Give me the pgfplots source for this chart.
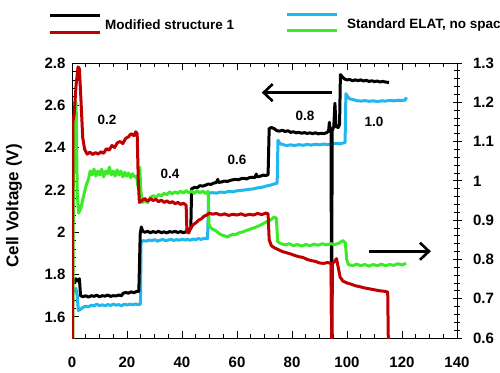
\documentclass[border=0pt]{standalone}
\usepackage{fontspec}
\setmainfont{Liberation Sans}
\usepackage{pgfplots}
\pgfplotsset{compat=1.18}
\usetikzlibrary{arrows.meta}
\definecolor{cred}{RGB}{192,0,0}
\definecolor{cblue}{RGB}{32,182,240}
\definecolor{cgreen}{RGB}{60,235,40}
\newcommand{\tickfont}{\fontsize{15}{18}\selectfont\bfseries}
\newcommand{\labfont}{\fontsize{13.5}{16}\selectfont\bfseries}
\begin{document}
\begin{tikzpicture}[x=1pt,y=1pt]
\useasboundingbox (0,0) rectangle (500,372);
\clip (0,0) rectangle (500,372);
% legend
\draw[line width=3pt] (50,356) -- (100,356);
\draw[line width=3pt,cred] (50,339) -- (100,339);
\node[anchor=west,inner sep=0pt,font=\labfont] at (105,347) {Modified structure 1};
\draw[line width=3pt,cblue] (287,357) -- (337,357);
\draw[line width=3pt,cgreen] (287,341) -- (337,341);
\node[anchor=west,inner sep=0pt,font=\labfont] at (347,347) {Standard ELAT, no spacer};
\node[rotate=90,font=\fontsize{17}{20}\selectfont\bfseries] at (14,166) {Cell Voltage (V)};

\begin{axis}[
  at={(72pt,34pt)}, anchor=south west, width=385pt, height=275pt, scale only axis,
  xmin=0, xmax=140, ymin=1.5, ymax=2.8,
  xtick={0,20,40,60,80,100,120,140},
  ytick={1.6,1.8,2,2.2,2.4,2.6,2.8},
  minor x tick num=3, minor y tick num=4,
  tick align=inside, ytick pos=left, xtick pos=both, xticklabel pos=lower,
  major tick length=7pt, minor tick length=4pt,
  axis line style={line width=0.8pt}, every tick/.style={line width=0.8pt,black},
  /pgf/number format/assume math mode=true,
  every tick label/.append style={font=\tickfont},
  yticklabel style={xshift=-3pt},
  xticklabel style={yshift=-15pt},
  clip=true,
  every axis plot/.append style={line width=3pt, line join=round, no marks},
]
\addplot[cblue] coordinates {
(1.0,1.72) (1.4,1.735) (1.9,1.70) (2.3,1.63) (3,1.635) (4,1.645) (5,1.65) (6,1.647) (7,1.655) (8,1.652) (9,1.66) (10,1.653) (11,1.657) (12,1.652) (13,1.658) (14,1.654) (15,1.66) (16,1.655) (17,1.658) (18,1.652) (19,1.66) (20,1.656) (21,1.66) (22,1.657) (23,1.661) (24,1.658) (24.9,1.66)
(25.1,1.955) (26,1.96) (27,1.958) (28,1.963) (29,1.96) (30,1.965) (31,1.958) (32,1.962) (33,1.966) (34,1.96) (35,1.963) (36,1.967) (37,1.961) (38,1.965) (39,1.962) (40,1.967) (41,1.963) (42,1.966) (43,1.962) (44,1.968) (45,1.965) (46,1.97) (47,1.966) (48,1.971) (49.3,1.97)
(49.7,2.185) (51,2.187) (52.5,2.185) (54,2.19) (55.5,2.188) (57,2.193) (58.5,2.191) (60,2.196) (61.5,2.198) (63,2.2) (64.5,2.203) (66,2.205) (67.5,2.21) (69,2.212) (70.5,2.218) (72,2.222) (73.5,2.228) (74.6,2.232)
(74.9,2.435) (75.5,2.42) (76.5,2.415) (78,2.41) (79.5,2.413) (81,2.41) (82.5,2.414) (84,2.411) (85.5,2.415) (87,2.412) (88.5,2.416) (90,2.413) (91.5,2.417) (93,2.414) (94.5,2.418) (96,2.42) (97.5,2.418) (99,2.423) (99.3,2.425)
(99.6,2.655) (100.3,2.64) (101,2.63) (102,2.628) (103.5,2.622) (105,2.62) (106.5,2.622) (108,2.619) (109.5,2.621) (111,2.618) (112.5,2.621) (114,2.62) (115.5,2.623) (117,2.621) (118.5,2.624) (120,2.623) (121.2,2.625) (121.6,2.638)
};
\addplot[black] coordinates {
(1.0,1.76) (1.4,1.78) (2.0,1.77) (2.7,1.78) (3.1,1.70) (4,1.695) (5,1.70) (6,1.693) (7,1.70) (8,1.697) (9,1.702) (10,1.695) (11,1.70) (12,1.698) (13,1.703) (14,1.697) (15,1.70) (16,1.699) (17,1.703) (18,1.70) (18.6,1.712) (19.5,1.715) (20.5,1.712) (21.5,1.718) (22.5,1.714) (23.5,1.72) (24.3,1.72)
(24.8,1.99) (25.2,2.025) (25.7,2.005) (26.5,2.0) (27.5,2.004) (28.5,1.998) (29.5,2.003) (30.5,1.999) (31.5,2.004) (32.5,1.998) (33.5,2.002) (34.5,1.997) (35.5,2.003) (36.5,2.0) (37.5,2.004) (38.5,1.999) (39.5,2.003) (40.5,1.998) (41.5,2.002) (42.0,2.015) (43.2,2.015)
(43.5,2.205) (44.5,2.212) (45.5,2.21) (46.5,2.22) (47.5,2.218) (48.5,2.222) (49.5,2.228) (50.5,2.226) (51.5,2.232) (52.5,2.235) (53,2.25) (53.3,2.235) (54.5,2.238) (55.5,2.242) (56.5,2.24) (57.5,2.245) (58.5,2.248) (59.5,2.25) (60.5,2.248) (61.5,2.253) (62.5,2.255) (63.5,2.252) (64.5,2.258) (65.5,2.26) (66.5,2.258) (67,2.275) (67.3,2.262) (68.5,2.265) (69.5,2.27) (70.5,2.268) (71.3,2.272)
(71.7,2.49) (72.5,2.495) (73.5,2.49) (74.5,2.48) (75.5,2.478) (76.5,2.482) (77.5,2.476) (78.5,2.48) (79.5,2.472) (80.5,2.475) (81.5,2.47) (82.5,2.472) (83.5,2.468) (84.5,2.471) (85.5,2.467) (86.5,2.47) (87.5,2.466) (88.5,2.47) (89.5,2.465) (90.5,2.468) (91.5,2.466) (92.5,2.47) (93.3,2.478) (93.6,2.52) (93.9,2.475) (94.2,2.48)
(94.4,1.40) (94.6,2.48) (95.2,2.50) (95.6,2.61) (96.0,2.50) (96.8,2.495) (97.3,2.51)
(97.6,2.745) (98.3,2.735) (99,2.725) (100,2.72) (101,2.722) (102,2.716) (103,2.72) (104,2.717) (105,2.72) (106,2.715) (107,2.718) (108,2.713) (109,2.716) (110,2.712) (111,2.715) (112,2.71) (113,2.713) (114,2.71) (115.3,2.708)
};
\node[font=\labfont] at (axis cs:12.7,2.533) {0.2};
\node[font=\labfont] at (axis cs:35.6,2.276) {0.4};
\node[font=\labfont] at (axis cs:60,2.343) {0.6};
\node[font=\labfont] at (axis cs:84.7,2.548) {0.8};
\node[font=\labfont] at (axis cs:109.8,2.524) {1.0};
\draw[line width=2.6pt,-{Straight Barb[length=9pt,width=17pt,line width=2.6pt]}] (axis cs:94.5,2.66) -- (axis cs:69,2.66);
\draw[line width=2.6pt,-{Straight Barb[length=9pt,width=17pt,line width=2.6pt]}] (axis cs:108,1.91) -- (axis cs:130.5,1.91);
\end{axis}

\begin{axis}[
  at={(72pt,34pt)}, anchor=south west, width=385pt, height=275pt, scale only axis,
  xmin=0, xmax=140, ymin=0.6, ymax=1.3,
  axis y line*=right, axis x line=none,
  ytick={0.6,0.7,0.8,0.9,1,1.1,1.2,1.3},
  minor y tick num=4,
  tick align=center,
  major tick length=9pt, minor tick length=6pt,
  axis line style={line width=0.8pt}, every tick/.style={line width=0.8pt,black},
  /pgf/number format/assume math mode=true,
  every tick label/.append style={font=\tickfont},
  yticklabel style={xshift=8pt},
  clip=true,
  every axis plot/.append style={line width=3pt, line join=round, no marks},
]
\addplot[cgreen] coordinates {
(0.3,0.55) (0.5,1.0) (1.0,1.2) (1.5,1.2) (1.9,0.97) (2.4,0.918) (3.2,0.93) (4,0.955) (5,0.985) (6,1.005) (6.6,1.025) (7.3,1.015) (8,1.03) (8.7,1.012) (9.4,1.025) (10.1,1.015) (10.8,1.03) (11.5,1.01) (12.2,1.025) (12.9,1.018) (13.6,1.035) (14.3,1.015) (15,1.025) (15.7,1.012) (16.4,1.028) (17.1,1.015) (17.8,1.025) (18.5,1.01) (19.2,1.022) (19.9,1.012) (20.6,1.02) (21.3,1.008) (22,1.018) (22.7,1.01) (23.5,1.012) (24,0.985) (24.6,1.035)
(25.1,0.97) (25.6,0.945) (26.5,0.95) (27.5,0.945) (28.5,0.958) (29.5,0.962) (30.5,0.958) (31.5,0.965) (32.5,0.962) (33.5,0.968) (34.5,0.965) (35.5,0.972) (36.5,0.967) (37.5,0.972) (38.5,0.968) (39.5,0.974) (40.5,0.969) (41.5,0.975) (42.5,0.97) (43.5,0.974) (44.5,0.968) (45.5,0.975) (46.5,0.969) (47.5,0.974) (48.5,0.968) (49.5,0.973)
(49.8,0.89) (50.5,0.88) (51.5,0.876) (52.5,0.872) (53.5,0.866) (54.5,0.862) (55.5,0.86) (56.5,0.857) (57.5,0.861) (58.5,0.864) (59.5,0.863) (60.5,0.867) (61.5,0.869) (62.5,0.871) (63.5,0.874) (64.5,0.876) (65.5,0.879) (66.5,0.881) (67.5,0.884) (68.5,0.887) (69.5,0.891) (70.5,0.895) (71.5,0.898) (72.5,0.902) (73.5,0.908) (74.3,0.905)
(74.8,0.845) (76,0.84) (77.5,0.837) (79,0.84) (80.5,0.835) (82,0.838) (83.5,0.834) (85,0.838) (86.5,0.835) (88,0.839) (89.5,0.836) (91,0.84) (92.5,0.837) (94,0.84) (95.5,0.838) (97,0.841) (98.5,0.848) (99.4,0.842)
(99.9,0.8) (100.5,0.787) (102,0.784) (103.5,0.788) (105,0.784) (106.5,0.787) (108,0.783) (109.5,0.787) (111,0.784) (112.5,0.788) (114,0.784) (115.5,0.787) (117,0.785) (118.5,0.789) (120,0.786) (121.5,0.79)
};
\addplot[cred] coordinates {
(0.2,0.55) (0.3,1.15) (0.8,1.17) (1.5,1.245) (2.2,1.29) (2.7,1.285) (3.3,1.2) (3.9,1.11) (4.6,1.08) (5.5,1.068) (6.5,1.073) (7.5,1.067) (8.5,1.072) (9.5,1.068) (10.5,1.074) (11.5,1.07) (12.5,1.082) (13.5,1.078) (14.5,1.09) (15.5,1.085) (16.5,1.097) (17.5,1.1) (18.5,1.095) (19.5,1.108) (20.5,1.112) (21.5,1.12) (22.5,1.115) (23.2,1.125) (23.7,1.12)
(24.1,1.0) (24.5,0.945) (25.5,0.95) (26.5,0.955) (27.5,0.948) (28.5,0.955) (29.5,0.95) (30.5,0.953) (31.5,0.947) (32.5,0.951) (33.5,0.945) (34.5,0.949) (35.5,0.944) (36.5,0.947) (37.5,0.942) (38.5,0.945) (39.5,0.94) (40.5,0.943) (41.5,0.938)
(41.8,0.87) (42.5,0.868) (43,0.878) (44,0.888) (45,0.893) (46,0.9) (47,0.903) (48,0.91) (49,0.913) (50,0.918) (51,0.915) (52.5,0.917) (54,0.913) (55.5,0.916) (57,0.912) (58.5,0.915) (60,0.913) (61.5,0.916) (63,0.912) (64.5,0.915) (66,0.913) (67.5,0.917) (69,0.914) (70.5,0.918) (71.3,0.916)
(71.7,0.85) (72.5,0.835) (73.5,0.83) (75,0.825) (76.5,0.82) (78,0.817) (79.5,0.814) (81,0.81) (82.5,0.807) (84,0.805) (85.5,0.8) (87,0.797) (88.5,0.795) (90,0.791) (91.5,0.79) (93,0.792) (94.2,0.79)
(94.5,0.55) (94.7,0.79) (95.5,0.795) (96.2,0.802) (96.8,0.78) (97.5,0.755) (98.5,0.745) (100,0.74) (101.5,0.737) (103,0.733) (104.5,0.731) (106,0.728) (107.5,0.726) (109,0.724) (110.5,0.722) (112,0.72) (113.5,0.719) (114.8,0.717) (115.1,0.55)
};
\end{axis}
\end{tikzpicture}
\end{document}
